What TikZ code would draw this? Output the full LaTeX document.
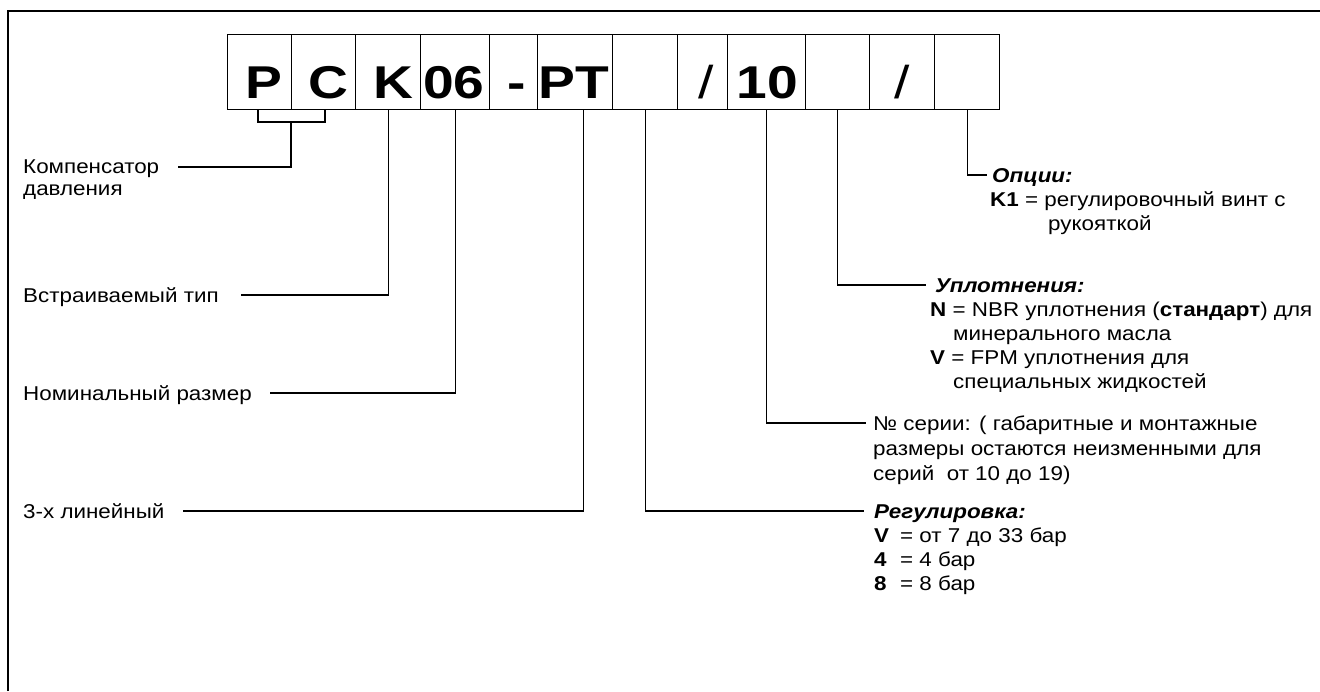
\documentclass[tikz,border=0pt]{standalone}
\usepackage{fontspec}
\setmainfont{Liberation Sans}[FakeStretch=1.12]
\newfontfamily\codefont{Liberation Sans}[FakeStretch=1.2]
\begin{document}
\begin{tikzpicture}[x=1pt,y=-1pt,
  cell/.style={draw, line width=1.3pt, minimum height=75pt, inner sep=0pt, anchor=north west},
  code/.style={anchor=base, inner sep=0pt, font=\codefont\fontsize{46}{46}\selectfont\bfseries},
  slash/.style={anchor=base, inner sep=0pt, font=\codefont\fontsize{46}{46}\selectfont},
  lbl/.style={anchor=base west, inner sep=0pt, text height=14.3pt, text depth=0pt, font=\fontsize{20}{22}\selectfont},
  conn/.style={line width=1.3pt}]
\useasboundingbox (0,0) rectangle (1320,691);
\draw[line width=2.2pt] (8,691) -- (8,11) -- (1320,11);
% cells
\node[cell, minimum width=64pt] (c1) at (227,34) {};
\node[cell, minimum width=64pt] (c2) at (291,34) {};
\node[cell, minimum width=65pt] (c3) at (355,34) {};
\node[cell, minimum width=69pt] (c4) at (420,34) {};
\node[cell, minimum width=48pt] (c5) at (489,34) {};
\node[cell, minimum width=75pt] (c6) at (537,34) {};
\node[cell, minimum width=65pt] (c7) at (612,34) {};
\node[cell, minimum width=50pt] (c8) at (677,34) {};
\node[cell, minimum width=78pt] (c9) at (727,34) {};
\node[cell, minimum width=64pt] (c10) at (805,34) {};
\node[cell, minimum width=65pt] (c11) at (869,34) {};
\node[cell, minimum width=65pt] (c12) at (934,34) {};
% codes
\node[code] (t1) at (264,98) {P};
\node[code] (t2) at (328,98) {C};
\node[code] (t3) at (393,98) {K};
\node[code] (t4) at (454,98) {06};
\node[code] (t5) at (517,98) {-};
\node[code] (t6) at (574,98) {PT};
\node[slash] (t8) at (706,98) {/};
\node[code] (t9) at (767,98) {10};
\node[slash] (t11) at (902,98) {/};
% left labels
\node[lbl] (l1) at (23,173) {Компенсатор};
\node[lbl] (l1b) at (23,195) {давления};
\node[lbl] (l2) at (23,302) {Встраиваемый тип};
\node[lbl] (l3) at (23,400) {Номинальный размер};
\node[lbl] (l4) at (23,518) {3-х линейный};
% bracket
\coordinate (bl) at (258,122);
\coordinate (br) at (325,122);
\coordinate (bm) at (291,122);
\draw[conn] (c1.south -| bl) -- (bl) -- (br) -- (c2.south -| br);
\draw[conn] (bm) |- ([xshift=19pt,yshift=-1pt]l1.east);
\draw[conn] (c3.south) |- ([xshift=22pt]l2.east);
\draw[conn] (c4.south) |- ([xshift=18pt]l3.east);
\draw[conn] ([xshift=8pt]c6.south) |- ([xshift=18pt]l4.east);
% options
\node[lbl] (o1) at (992,182) {\textbf{\textit{Опции:}}};
\node[lbl] (o2) at (990,206) {\textbf{K1} = регулировочный винт с};
\node[lbl] (o3) at (1048,230) {рукояткой};
% seals
\node[lbl] (s1) at (935,292) {\textbf{\textit{Уплотнения:}}};
\node[lbl] (s2) at (930,316) {\textbf{N} = NBR уплотнения (\textbf{стандарт}) для};
\node[lbl] (s3) at (953,340) {минерального масла};
\node[lbl] (s4) at (930,364) {\textbf{V} = FPM уплотнения для};
\node[lbl] (s5) at (953,388) {специальных жидкостей};
% series
\node[lbl] (n1) at (873,430) {№ серии: ( габаритные и монтажные};
\node[lbl] (n2) at (873,455) {размеры остаются неизменными для};
\node[lbl] (n3) at (873,480) {серий\ \ от 10 до 19)};
% adjustment
\node[lbl] (a1) at (874,518) {\textbf{\textit{Регулировка:}}};
\node[lbl] (a2) at (874,542) {\makebox[26pt][l]{\textbf{V}}= от 7 до 33 бар};
\node[lbl] (a3) at (874,566) {\makebox[26pt][l]{\textbf{4}}= 4 бар};
\node[lbl] (a4) at (874,590) {\makebox[26pt][l]{\textbf{8}}= 8 бар};
\draw[conn] (c12.south) |- ([xshift=-5pt]o1.west);
\draw[conn] (c10.south) |- ([xshift=-9pt]s1.west);
\draw[conn] (c9.south) |- ([xshift=-7pt]n1.west);
\draw[conn] (c7.south) |- ([xshift=-10pt]a1.west);
\end{tikzpicture}
\end{document}
